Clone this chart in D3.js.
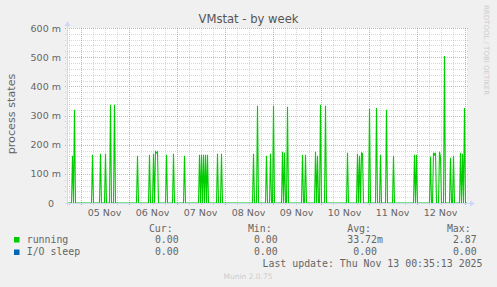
<!DOCTYPE html>
<meta charset="utf-8">
<script src="https://d3js.org/d3.v7.min.js"></script>
<style>
body { margin: 0; background: #f0f0f0; }
text { font-family: "DejaVu Sans", sans-serif; fill: #666; }
.mono { font-family: "DejaVu Sans Mono", monospace; font-size: 9.9px; white-space: pre; }
</style>
<body>
<svg width="497" height="287"></svg>
<script>
  // ---- data ----
  var spikeTimes = [
    "2025-11-04T20:00", "2025-11-04T21:00",
    "2025-11-05T06:00", "2025-11-05T10:00", "2025-11-05T12:30", "2025-11-05T15:00", "2025-11-05T17:00",
    "2025-11-06T04:30", "2025-11-06T10:30", "2025-11-06T12:30", "2025-11-06T13:30", "2025-11-06T14:00", "2025-11-06T14:30",
    "2025-11-06T19:00", "2025-11-06T22:30",
    "2025-11-07T04:00", "2025-11-07T11:30", "2025-11-07T12:30", "2025-11-07T13:30", "2025-11-07T14:30", "2025-11-07T15:30",
    "2025-11-07T20:30", "2025-11-07T22:30",
    "2025-11-08T14:30", "2025-11-08T16:30", "2025-11-08T21:00", "2025-11-08T23:00",
    "2025-11-09T00:30", "2025-11-09T05:00", "2025-11-09T06:00", "2025-11-09T07:30", "2025-11-09T15:00", "2025-11-09T16:30",
    "2025-11-09T21:30", "2025-11-09T22:30",
    "2025-11-10T00:00", "2025-11-10T02:30", "2025-11-10T13:30", "2025-11-10T18:30", "2025-11-10T19:30", "2025-11-10T20:30",
    "2025-11-10T21:00",
    "2025-11-11T00:30", "2025-11-11T04:00", "2025-11-11T06:00", "2025-11-11T09:00", "2025-11-11T12:30", "2025-11-11T23:00",
    "2025-11-12T00:00", "2025-11-12T07:00", "2025-11-12T08:30", "2025-11-12T09:00", "2025-11-12T09:30", "2025-11-12T11:30",
    "2025-11-12T12:00", "2025-11-12T14:00", "2025-11-12T17:00", "2025-11-12T18:30", "2025-11-12T22:00", "2025-11-12T23:00",
    "2025-11-13T00:00"
  ];
  var spikeValues = [
    0.162, 0.320,
    0.165, 0.169, 0.169, 0.337, 0.337,
    0.162, 0.165, 0.169, 0.176, 0.172, 0.176,
    0.165, 0.169,
    0.162, 0.165, 0.165, 0.165, 0.165, 0.165,
    0.169, 0.169,
    0.169, 0.333, 0.162, 0.169,
    0.333, 0.176, 0.172, 0.330, 0.165, 0.165,
    0.176, 0.162,
    0.337, 0.333, 0.172, 0.169, 0.162, 0.172,
    0.169,
    0.323, 0.326, 0.165, 0.320, 0.162, 0.165,
    0.165, 0.159, 0.172, 0.165, 0.172, 0.176,
    0.157, 0.504, 0.155, 0.162, 0.172, 0.169,
    0.326
  ];
  var yTicks = [0, 0.1, 0.2, 0.3, 0.4, 0.5, 0.6];
  var yTickLabels = ["0", "100 m", "200 m", "300 m", "400 m", "500 m", "600 m"];
  var dayLabels = ["05 Nov", "06 Nov", "07 Nov", "08 Nov", "09 Nov", "10 Nov", "11 Nov", "12 Nov"];

  var seriesNames  = ["running", "I/O sleep"];
  var seriesColors = ["#00cc00", "#0066b3"];
  var legendHeads  = ["Cur:", "Min:", "Avg:", "Max:"];
  var legendNums   = [["0.00", "0.00", "33.72", "2.87"], ["0.00", "0.00", "0.00", "0.00"]];
  var legendUnits  = [["", "", "m", ""], ["", "", "", ""]];

  var parse = d3.utcParse("%Y-%m-%dT%H:%M");
  var svg = d3.select("svg");

  var x = d3.scaleUtc()
    .domain([parse("2025-11-04T17:15"), parse("2025-11-13T01:15")])
    .range([67, 467]);
  var y = d3.scaleLinear().domain([0, 0.6]).range([203, 28]);

  // canvas
  svg.append("rect").attr("x", 67).attr("y", 28).attr("width", 400).attr("height", 175).attr("fill", "#fff");

  /* ----------- grid ----------- */
  var minorY = d3.range(0, 0.6001, 0.02).filter(function(v){ return Math.abs(v*10 - Math.round(v*10)) > 1e-6; });
  svg.selectAll("line.gy").data(minorY).enter().append("line")
    .attr("x1", 65).attr("x2", 469)
    .attr("y1", function(d){ return Math.round(y(d)) + 0.5; })
    .attr("y2", function(d){ return Math.round(y(d)) + 0.5; })
    .attr("stroke", "rgba(143,143,143,0.35)").attr("stroke-dasharray", "1,1");

  var hours6 = d3.utcHour.every(6).range(x.domain()[0], x.domain()[1])
    .filter(function(d){ return d.getUTCHours() !== 0; });
  svg.selectAll("line.gx").data(hours6).enter().append("line")
    .attr("x1", function(d){ return Math.round(x(d)) + 0.5; })
    .attr("x2", function(d){ return Math.round(x(d)) + 0.5; })
    .attr("y1", 28).attr("y2", 205)
    .attr("stroke", "rgba(143,143,143,0.35)").attr("stroke-dasharray", "1,1");

  svg.selectAll("line.my").data(yTicks).enter().append("line")
    .attr("x1", 65).attr("x2", 469)
    .attr("y1", function(d){ return Math.round(y(d)) + 0.5; })
    .attr("y2", function(d){ return Math.round(y(d)) + 0.5; })
    .attr("stroke", "rgba(222,80,80,0.5)").attr("stroke-dasharray", "1,1");

  var days = d3.utcDay.range(x.domain()[0], x.domain()[1]);
  svg.selectAll("line.mx").data(days).enter().append("line")
    .attr("x1", function(d){ return Math.round(x(d)) + 0.5; })
    .attr("x2", function(d){ return Math.round(x(d)) + 0.5; })
    .attr("y1", 28).attr("y2", 206)
    .attr("stroke", "rgba(222,80,80,0.5)").attr("stroke-dasharray", "1,1");

  /* ----------- series ----------- */
  var half = 30 * 60 * 1000;
  var byTime = new Map();
  spikeTimes.forEach(function(s, i){ byTime.set(+parse(s), spikeValues[i]); });
  spikeTimes.forEach(function(s){
    var t = +parse(s);
    [t - half, t + half].forEach(function(n){ if (!byTime.has(n)) byTime.set(n, 0); });
  });
  byTime.set(+x.domain()[0], 0);
  byTime.set(+x.domain()[1], 0);
  var running = Array.from(byTime, function(e){ return {t: new Date(e[0]), v: e[1]}; })
    .sort(function(a, b){ return a.t - b.t; });

  var line = d3.line().x(function(d){ return x(d.t); }).y(function(d){ return y(d.v); });
  svg.append("path").datum(running)
    .attr("fill", "none").attr("stroke", seriesColors[0]).attr("stroke-width", 1.1)
    .attr("d", line);

  /* ----------- axes ----------- */
  svg.append("line").attr("x1", 65).attr("x2", 470).attr("y1", 203.5).attr("y2", 203.5)
    .attr("stroke", "#cfd6f8");
  svg.append("path").attr("d", "M470,200.5L475,203.5L470,206.5Z").attr("fill", "#cfd6f8");
  svg.append("line").attr("x1", 67.5).attr("x2", 67.5).attr("y1", 206).attr("y2", 24)
    .attr("stroke", "#cfd6f8");
  svg.append("path").attr("d", "M64.5,26L67.5,21L70.5,26Z").attr("fill", "#cfd6f8");

  svg.selectAll("text.yl").data(yTicks).enter().append("text")
    .attr("x", function(d, i){ return i === 0 ? 54 : 61; })
    .attr("y", function(d){ return y(d) + 3.5; })
    .attr("text-anchor", "end").style("font-size", "9.5px")
    .text(function(d, i){ return yTickLabels[i]; });

  svg.selectAll("text.xl").data(days.slice(0, dayLabels.length)).enter().append("text")
    .attr("x", function(d){ return x(d3.utcHour.offset(d, 12)); })
    .attr("y", 216)
    .attr("text-anchor", "middle").style("font-size", "9.5px")
    .text(function(d, i){ return dayLabels[i]; });

  svg.append("text").attr("transform", "translate(15,114) rotate(-90)")
    .attr("text-anchor", "middle").style("font-size", "11.2px").text("process states");

  svg.append("text").attr("x", 248.5).attr("y", 23).attr("text-anchor", "middle")
    .style("font-size", "11.6px").style("fill", "#555").text("VMstat - by week");

  svg.append("text").attr("transform", "translate(483.5,5) rotate(90)")
    .style("font-size", "7px").style("fill", "#ccc").text("RRDTOOL / TOBI OETIKER");

  /* ----------- legend ----------- */
  var colEnd = [178.7, 277.7, 377, 476.7];
  svg.selectAll("text.lh").data(legendHeads).enter().append("text")
    .attr("class", "mono").attr("x", function(d, i){ return colEnd[i] - 6; }).attr("y", 231.5)
    .attr("text-anchor", "end").text(function(d){ return d; });

  seriesNames.forEach(function(name, r){
    var by = 242.5 + r * 12.5;
    svg.append("rect").attr("x", 14).attr("y", by - 5.5).attr("width", 5.5).attr("height", 5.5)
      .attr("fill", seriesColors[r]);
    svg.append("text").attr("class", "mono").attr("x", 26.7).attr("y", by).text(name);
    legendNums[r].forEach(function(v, c){
      svg.append("text").attr("class", "mono").attr("x", colEnd[c]).attr("y", by)
        .attr("text-anchor", "end").text(v);
      if (legendUnits[r][c])
        svg.append("text").attr("class", "mono").attr("x", colEnd[c]).attr("y", by).text(legendUnits[r][c]);
    });
  });

  svg.append("text").attr("class", "mono").attr("x", 482.5).attr("y", 267)
    .attr("text-anchor", "end").text("Last update: Thu Nov 13 00:35:13 2025");

  svg.append("text").attr("x", 248).attr("y", 279).attr("text-anchor", "middle")
    .style("font-size", "7.5px").style("fill", "#ccc").text("Munin 2.0.75");
</script>
</body>
